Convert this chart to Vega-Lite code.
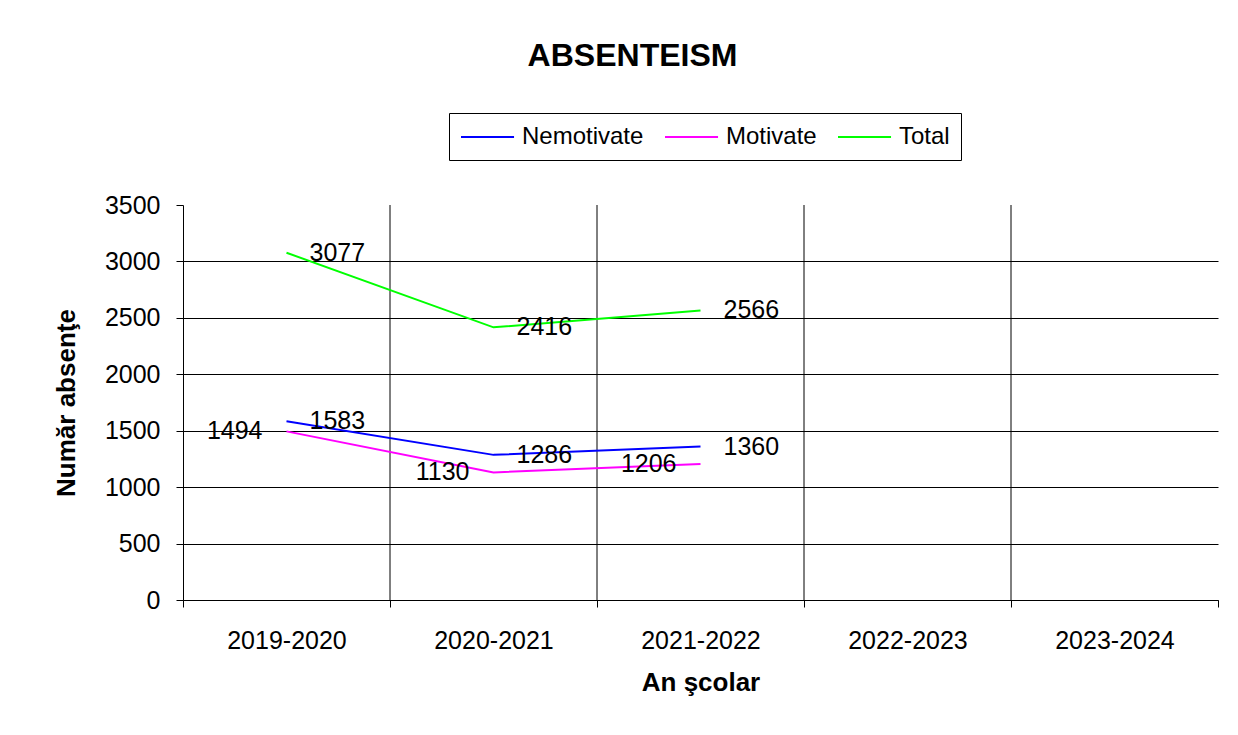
{
  "$schema": "https://vega.github.io/schema/vega-lite/v6.json",
  "autosize": {"type": "none"},
  "width": 1035,
  "height": 395,
  "padding": {"left": 183, "top": 205, "right": 20, "bottom": 135},
  "background": "white",
  "config": {
    "view": {"stroke": null},
    "font": "Liberation Sans"
  },
  "title": {
    "text": "ABSENTEISM",
    "font": "Liberation Sans",
    "fontSize": 32,
    "fontWeight": "bold",
    "color": "black",
    "anchor": "middle",
    "dx": -68,
    "offset": 40
  },
  "datasets": {
    "absente": [
      {"an": "2019-2020", "serie": "Nemotivate", "valoare": 1583},
      {"an": "2020-2021", "serie": "Nemotivate", "valoare": 1286},
      {"an": "2021-2022", "serie": "Nemotivate", "valoare": 1360},
      {"an": "2019-2020", "serie": "Motivate", "valoare": 1494},
      {"an": "2020-2021", "serie": "Motivate", "valoare": 1130},
      {"an": "2021-2022", "serie": "Motivate", "valoare": 1206},
      {"an": "2019-2020", "serie": "Total", "valoare": 3077},
      {"an": "2020-2021", "serie": "Total", "valoare": 2416},
      {"an": "2021-2022", "serie": "Total", "valoare": 2566}
    ],
    "limite": [
      {"an": "2020-2021"},
      {"an": "2021-2022"},
      {"an": "2022-2023"},
      {"an": "2023-2024"}
    ]
  },
  "encoding": {
    "x": {
      "field": "an",
      "type": "ordinal",
      "bandPosition": 0.5,
      "title": "An şcolar",
      "scale": {
        "type": "band",
        "domain": ["2019-2020", "2020-2021", "2021-2022", "2022-2023", "2023-2024"],
        "paddingInner": 0,
        "paddingOuter": 0
      },
      "axis": {
        "tickBand": "extent",
        "grid": false,
        "labelAngle": 0,
        "domainColor": "black",
        "domainWidth": 1,
        "tickColor": "black",
        "tickSize": 7,
        "labelFont": "Liberation Sans",
        "labelFontSize": 25,
        "labelColor": "black",
        "labelPadding": 21,
        "titleFont": "Liberation Sans",
        "titleFontSize": 26,
        "titleFontWeight": "bold",
        "titleColor": "black",
        "titlePadding": 16,
        "titleDx": 12
      }
    }
  },
  "layer": [
    {
      "data": {"name": "limite"},
      "mark": {"type": "rule", "color": "black", "strokeWidth": 1},
      "encoding": {
        "x": {"field": "an", "type": "ordinal", "bandPosition": 0, "title": "An şcolar"}
      }
    },
    {
      "data": {"name": "absente"},
      "mark": {"type": "line", "strokeWidth": 2},
      "encoding": {
        "y": {
          "field": "valoare",
          "type": "quantitative",
          "title": "Număr absenţe",
          "scale": {"domain": [0, 3500], "nice": false, "zero": true},
          "axis": {
            "values": [0, 500, 1000, 1500, 2000, 2500, 3000, 3500],
            "format": "d",
            "grid": true,
            "gridColor": "black",
            "gridWidth": 1,
            "gridOpacity": {"condition": {"test": "datum.value === 3500", "value": 0}, "value": 1},
            "domainColor": "black",
            "tickColor": "black",
            "tickSize": 7,
            "labelFont": "Liberation Sans",
            "labelFontSize": 25,
            "labelColor": "black",
            "labelPadding": 16,
            "titleFont": "Liberation Sans",
            "titleFontSize": 26,
            "titleFontWeight": "bold",
            "titleColor": "black",
            "titlePadding": 25
          }
        },
        "color": {
          "field": "serie",
          "type": "nominal",
          "scale": {
            "domain": ["Nemotivate", "Motivate", "Total"],
            "range": ["#0000FF", "#FF00FF", "#00FF00"]
          },
          "legend": {
            "title": null,
            "orient": "none",
            "direction": "horizontal",
            "legendX": 266,
            "legendY": -92,
            "strokeColor": "black",
            "fillColor": "white",
            "padding": 11,
            "symbolType": "M-1,0H3.42",
            "symbolSize": 576,
            "symbolStrokeWidth": 2,
            "labelFont": "Liberation Sans",
            "labelFontSize": 24,
            "labelColor": "black",
            "labelOffset": 36,
            "columnPadding": 17
          }
        }
      }
    },
    {
      "data": {"name": "absente"},
      "transform": [{"filter": "datum.serie === 'Motivate'"}],
      "mark": {"type": "text", "align": "right", "baseline": "middle", "dx": -24, "fontSize": 25, "font": "Liberation Sans", "color": "black"},
      "encoding": {
        "y": {"field": "valoare", "type": "quantitative", "title": "Număr absenţe"},
        "text": {"field": "valoare", "type": "quantitative"}
      }
    },
    {
      "data": {"name": "absente"},
      "transform": [{"filter": "datum.serie !== 'Motivate'"}],
      "mark": {"type": "text", "align": "left", "baseline": "middle", "dx": 23, "fontSize": 25, "font": "Liberation Sans", "color": "black"},
      "encoding": {
        "y": {"field": "valoare", "type": "quantitative", "title": "Număr absenţe"},
        "text": {"field": "valoare", "type": "quantitative"}
      }
    }
  ]
}
